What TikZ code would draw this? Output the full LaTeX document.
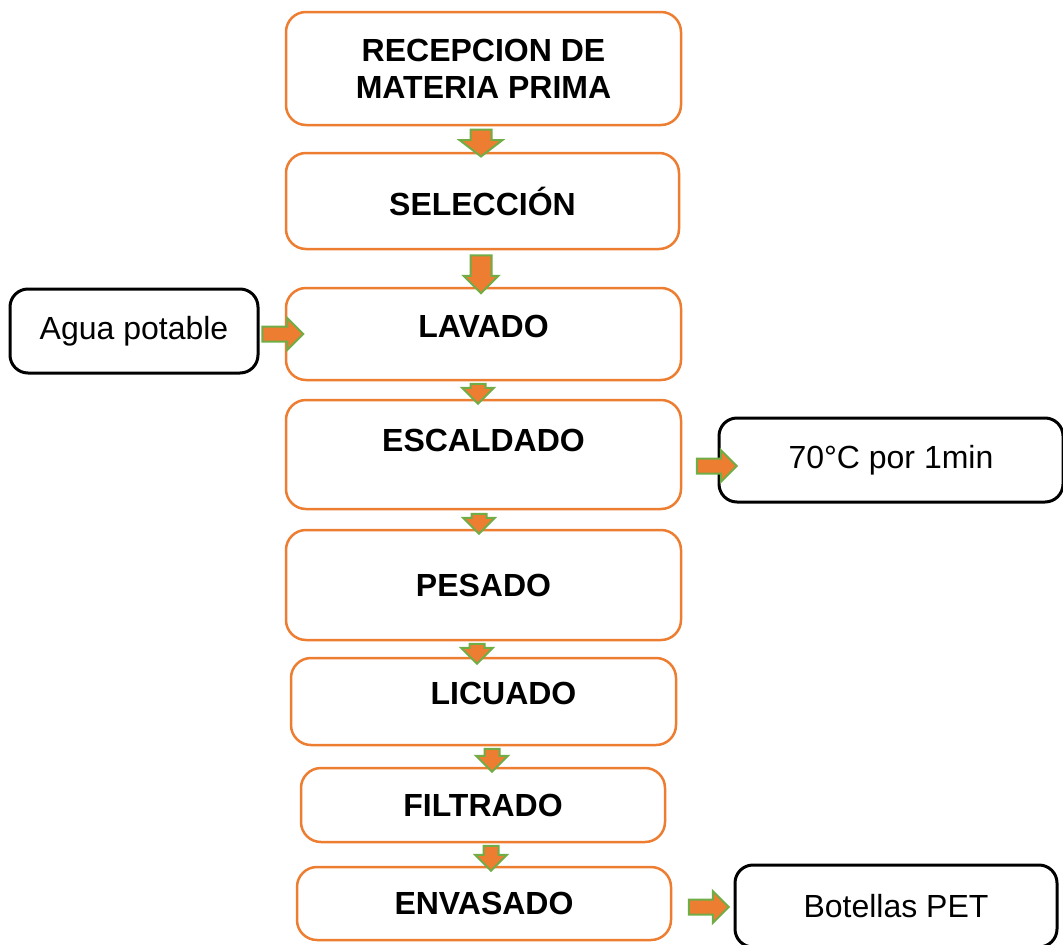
\documentclass[tikz,border=0pt]{standalone}
\usepackage{fontspec}
\setmainfont{Liberation Sans}
\usetikzlibrary{shapes.arrows}
\definecolor{naranja}{RGB}{237,125,49}
\definecolor{verde}{RGB}{112,173,71}

\begin{document}
\begin{tikzpicture}[x=1pt, y=-1pt,
				line join=round,
				every node/.style = {inner sep=0pt, font=\fontsize{32}{37}\selectfont},
				caja/.style = {draw=naranja, line width=2.5pt, rounded corners=20pt, align=center, font=\fontsize{32}{37}\selectfont\bfseries},
				nota/.style = {draw=black, line width=3pt, rounded corners=18pt, align=center},
				flecha/.style = {single arrow, fill=naranja, draw=verde, line width=2pt, line join=miter,
					inner xsep=0pt, inner ysep=6.5pt, single arrow head extend=8.5pt, single arrow tip angle=90}
				]
				\useasboundingbox (0,0) rectangle (1063,945);
				% etapas del proceso
				\node[caja, minimum width=395pt, minimum height=113pt] (recepcion) at (483.5,68.5) {RECEPCION DE\\MATERIA PRIMA};
				\node[caja, minimum width=393pt, minimum height=96pt] (seleccion) at (482.5,201) {SELECCIÓN};
				\node[caja, minimum width=395pt, minimum height=92pt, text depth=16pt] (lavado) at (483.5,334) {LAVADO};
				\node[caja, minimum width=395pt, minimum height=109pt,
					label={[font=\fontsize{32}{37}\selectfont\bfseries, yshift=14pt]center:ESCALDADO}] (escaldado) at (483.5,454.5) {};
				\node[caja, minimum width=395pt, minimum height=110pt] (pesado) at (483.5,585) {PESADO};
				\node[caja, minimum width=385pt, minimum height=87pt,
					label={[font=\fontsize{32}{37}\selectfont\bfseries, xshift=20pt, yshift=8pt]center:LICUADO}] (licuado) at (483.5,701.5) {};
				\node[caja, minimum width=364pt, minimum height=74pt] (filtrado) at (483,805) {FILTRADO};
				\node[caja, minimum width=374pt, minimum height=73pt] (envasado) at (484,903.5) {ENVASADO};
				% entradas y condiciones
				\node[nota, minimum width=248pt, minimum height=84pt] (agua) at (134,331) {Agua potable};
				\node[nota, minimum width=344pt, minimum height=84pt] (temperatura) at (891,460) {70°C por 1min};
				\node[nota, minimum width=322pt, minimum height=82pt] (botellas) at (896,906) {Botellas PET};
				% flechas
				\node[flecha, rotate=-90, minimum height=27pt, inner ysep=9.5pt, single arrow head extend=11pt, single arrow tip angle=105] (f1) at (481,139) {};
				\node[flecha, rotate=-90, minimum height=38pt, inner ysep=9.5pt, single arrow head extend=7pt] (f2) at (481,269) {};
				\node[flecha, rotate=-90, minimum height=20pt] (f3) at (478,390) {};
				\node[flecha, rotate=-90, minimum height=20pt] (f4) at (479,520) {};
				\node[flecha, rotate=-90, minimum height=20pt] (f5) at (477,650) {};
				\node[flecha, rotate=-90, minimum height=23pt] (f6) at (492,756.5) {};
				\node[flecha, rotate=-90, minimum height=25pt] (f7) at (491,854.5) {};
				\node[flecha, minimum height=41pt] (f8) at (279,334) {};
				\node[flecha, minimum height=40pt] (f9) at (713,466) {};
				\node[flecha, minimum height=40pt] (f10) at (705,907) {};
\end{tikzpicture}
\end{document}
